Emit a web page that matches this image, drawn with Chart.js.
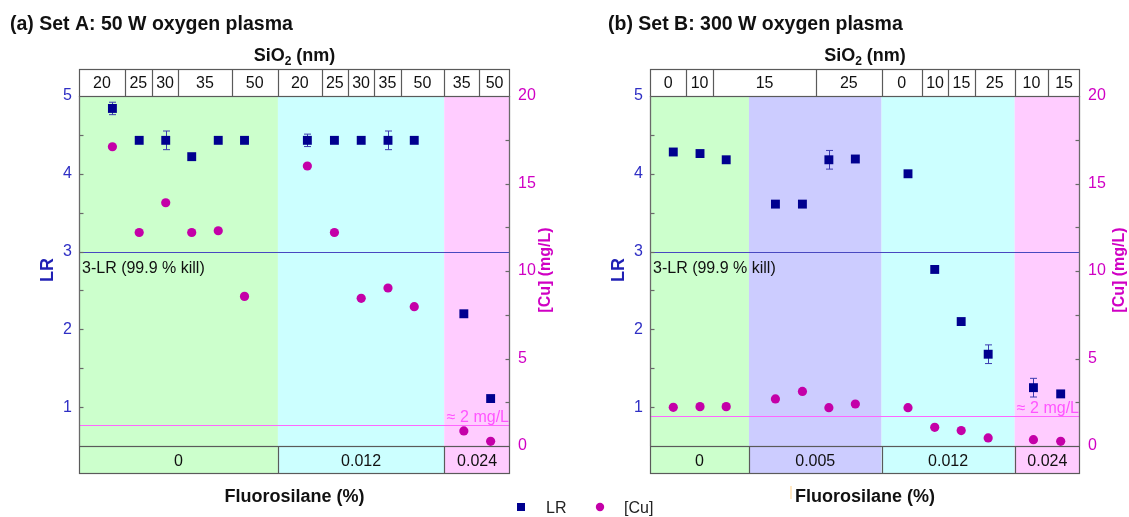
<!DOCTYPE html>
<html><head><meta charset="utf-8">
<script src="https://cdn.jsdelivr.net/npm/chart.js@4.4.0/dist/chart.umd.min.js"></script>
<style>
html,body{margin:0;padding:0;background:#fff;}
#wrap{position:relative;width:1129px;height:517px;overflow:hidden;}
canvas{position:absolute;left:0;top:0;}
</style>
</head><body>
<div id="wrap"><canvas id="ca" width="1129" height="517"></canvas><canvas id="cb" width="1129" height="517"></canvas></div>
<script>
// ---------- DATA ----------
// Panel A (Set A: 50 W oxygen plasma)
const posA   = [1.26, 2.27, 3.27, 4.25, 5.25, 6.24, 8.61, 9.63, 10.64, 11.65, 12.64, 14.51, 15.52];
const lrA    = [4.84, 4.43, 4.43, 4.22, 4.43, 4.43, 4.43, 4.43, 4.43, 4.43, 4.43, 2.20, 1.11];
const lrErrA = [0.08, 0.02, 0.12, 0.03, 0.02, 0.02, 0.08, 0.04, 0.02, 0.12, 0.02, 0.02, 0.02];
const cuA    = [17.1, 12.2, 13.9, 12.2, 12.3, 8.55, 16.0, 12.2, 8.44, 9.03, 7.96, 0.86, 0.27];
const sio2BoundsA = [0, 1.73, 2.74, 3.75, 5.75, 7.5, 9.15, 10.14, 11.13, 12.13, 13.77, 15.09, 16.25];
const sio2LabelsA = ['20','25','30','35','50','20','25','30','35','50','35','50'];
const fsBoundsA = [0, 7.5, 13.77, 16.25];
const fsLabelsA = ['0','0.012','0.024'];
const cuLimitA = 1.18;

// Panel B (Set B: 300 W oxygen plasma)
const posB   = [0.88, 1.89, 2.88, 4.74, 5.76, 6.76, 7.76, 9.75, 10.76, 11.76, 12.78, 14.49, 15.52];
const lrB    = [4.28, 4.26, 4.18, 3.61, 3.61, 4.18, 4.19, 4.00, 2.77, 2.10, 1.68, 1.25, 1.17];
const lrErrB = [0.02, 0.02, 0.03, 0.03, 0.02, 0.12, 0.03, 0.03, 0.02, 0.02, 0.12, 0.12, 0.02];
const cuB    = [2.21, 2.25, 2.25, 2.69, 3.12, 2.19, 2.40, 2.19, 1.07, 0.88, 0.46, 0.36, 0.27];
const sio2BoundsB = [0, 1.37, 2.38, 6.28, 8.75, 10.28, 11.27, 12.27, 13.78, 15.05, 16.25];
const sio2LabelsB = ['0','10','15','25','0','10','15','25','10','15'];
const fsBoundsB = [0, 3.74, 8.75, 13.78, 16.25];
const fsLabelsB = ['0','0.005','0.012','0.024'];
const cuLimitB = 1.71;

const lrTicks = [1, 2, 3, 4, 5];
const cuTicks = [0, 5, 10, 15, 20];

// ---------- STYLE ----------
const FONT = "'Liberation Sans', Arial, sans-serif";
const C_LR = '#00008f', C_CU = '#c400a8', C_ERR = '#3b3bb0';
const C_LRTXT = '#2f2fc4', C_CUTXT = '#d000c4';
const REGION_COLORS = {g:'#ccffcc', c:'#ccffff', p:'#ffccff', v:'#ccccff'};

function txt(ctx, s, x, y, font, color, align, base){
  ctx.font = font; ctx.fillStyle = color; ctx.textAlign = align || 'left'; ctx.textBaseline = base || 'alphabetic';
  ctx.fillText(s, x, y);
}

function panelPlugin(cfg){
  return {
    id: 'panel',
    beforeDatasetsDraw(chart){
      const {ctx, chartArea:a, scales} = chart;
      const x = scales.x, yL = scales.yL, yR = scales.yR;
      ctx.save();
      for (let i=0;i<cfg.fsBounds.length-1;i++){
        const x0 = x.getPixelForValue(cfg.fsBounds[i]), x1 = x.getPixelForValue(cfg.fsBounds[i+1]);
        ctx.fillStyle = REGION_COLORS[cfg.colors[i]];
        ctx.fillRect(x0, a.top, x1-x0, a.bottom-a.top);
      }
      const y3 = Math.round(yL.getPixelForValue(3))+0.5;
      ctx.strokeStyle = '#4848c0'; ctx.lineWidth = 1;
      ctx.beginPath(); ctx.moveTo(a.left, y3); ctx.lineTo(a.right, y3); ctx.stroke();
      txt(ctx, '3-LR (99.9 % kill)', a.left+3, y3+20, '16px '+FONT, '#111');
      const yc = Math.round(yR.getPixelForValue(cfg.cuLimit))+0.5;
      ctx.strokeStyle = '#ff66ff';
      ctx.beginPath(); ctx.moveTo(a.left, yc); ctx.lineTo(a.right, yc); ctx.stroke();
      txt(ctx, '\u2248 2 mg/L', a.right-1, yc-4, '16px '+FONT, '#ff55ff', 'right');
      ctx.strokeStyle = C_ERR; ctx.lineWidth = 1;
      cfg.pos.forEach((p,i)=>{
        const e = cfg.err[i]; if (!e) return;
        const px = Math.round(x.getPixelForValue(p))+0.5;
        const t = yL.getPixelForValue(cfg.lr[i]+e), b = yL.getPixelForValue(cfg.lr[i]-e);
        ctx.beginPath();
        ctx.moveTo(px, t); ctx.lineTo(px, b);
        ctx.moveTo(px-3.5, t); ctx.lineTo(px+3.5, t);
        ctx.moveTo(px-3.5, b); ctx.lineTo(px+3.5, b);
        ctx.stroke();
      });
      ctx.restore();
    },
    afterDraw(chart){
      const {ctx, chartArea:a, scales} = chart;
      const x = scales.x, yL = scales.yL, yR = scales.yR;
      const L = Math.round(a.left)+0.5, R = Math.round(a.right)-0.5;
      const hTop = 69, hBot = Math.round(a.top), bTop = Math.round(a.bottom), bBot = 473;
      const cx = (a.left+a.right)/2;
      ctx.save();
      ctx.strokeStyle = '#5a5a5a'; ctx.lineWidth = 1.2;
      ctx.fillStyle = '#fff'; ctx.fillRect(L, hTop, R-L, hBot-hTop);
      ctx.strokeRect(L, hTop+0.5, R-L, hBot-hTop);
      for (let i=0;i<cfg.sio2Labels.length;i++){
        const x0 = x.getPixelForValue(cfg.sio2Bounds[i]), x1 = x.getPixelForValue(cfg.sio2Bounds[i+1]);
        if (i>0){ const xx = Math.round(x0)+0.5; ctx.beginPath(); ctx.moveTo(xx,hTop); ctx.lineTo(xx,hBot); ctx.stroke(); }
        txt(ctx, cfg.sio2Labels[i], (x0+x1)/2, 88, '16px '+FONT, '#111', 'center');
      }
      for (let i=0;i<cfg.fsLabels.length;i++){
        const x0 = x.getPixelForValue(cfg.fsBounds[i]), x1 = x.getPixelForValue(cfg.fsBounds[i+1]);
        ctx.fillStyle = REGION_COLORS[cfg.colors[i]];
        ctx.fillRect(x0, bTop, x1-x0, bBot-bTop);
        txt(ctx, cfg.fsLabels[i], (x0+x1)/2, 466, '16px '+FONT, '#111', 'center');
      }
      ctx.strokeStyle = '#5a5a5a';
      ctx.strokeRect(L, bTop+0.5, R-L, bBot-bTop);
      for (let i=1;i<cfg.fsLabels.length;i++){
        const xx = Math.round(x.getPixelForValue(cfg.fsBounds[i]))+0.5;
        ctx.beginPath(); ctx.moveTo(xx,bTop); ctx.lineTo(xx,bBot); ctx.stroke();
      }
      ctx.strokeStyle = '#6a6a6a'; ctx.lineWidth = 1.3;
      ctx.beginPath(); ctx.moveTo(L, hBot); ctx.lineTo(L, bTop); ctx.moveTo(R, hBot); ctx.lineTo(R, bTop); ctx.stroke();
      ctx.lineWidth = 1.2;
      for (let v=1; v<5; v+=0.5){ const yy = Math.round(yL.getPixelForValue(v))+0.5; ctx.beginPath(); ctx.moveTo(L,yy); ctx.lineTo(L+4,yy); ctx.stroke(); }
      for (let v=2.5; v<20; v+=2.5){ const yy = Math.round(yR.getPixelForValue(v))+0.5; ctx.beginPath(); ctx.moveTo(R,yy); ctx.lineTo(R-4,yy); ctx.stroke(); }
      // titles
      txt(ctx, cfg.title, cfg.titleX, 30, 'bold 19.5px '+FONT, '#111');
      ctx.font = 'bold 18px '+FONT;
      const w1 = ctx.measureText('SiO').width, w3 = ctx.measureText(' (nm)').width;
      ctx.font = 'bold 12px '+FONT; const w2 = ctx.measureText('2').width;
      let sx = cx - (w1+w2+w3)/2;
      txt(ctx, 'SiO', sx, 61, 'bold 18px '+FONT, '#111'); sx += w1;
      txt(ctx, '2', sx, 65, 'bold 12px '+FONT, '#111'); sx += w2;
      txt(ctx, ' (nm)', sx, 61, 'bold 18px '+FONT, '#111');
      txt(ctx, 'Fluorosilane (%)', cx, 502, 'bold 18px '+FONT, '#111', 'center');
      ctx.save(); ctx.translate(cfg.lrTitleX, 270); ctx.rotate(-Math.PI/2);
      txt(ctx, 'LR', 0, 0, 'bold 18px '+FONT, '#1f1fb4', 'center', 'middle'); ctx.restore();
      ctx.save(); ctx.translate(cfg.cuTitleX, 270); ctx.rotate(-Math.PI/2);
      txt(ctx, '[Cu] (mg/L)', 0, 0, 'bold 16px '+FONT, C_CUTXT, 'center', 'middle'); ctx.restore();
      if (cfg.legend){
        ctx.fillStyle = C_LR; ctx.fillRect(517, 503, 8, 8);
        txt(ctx, 'LR', 546, 513, '16px '+FONT, '#222');
        ctx.fillStyle = C_CU; ctx.beginPath(); ctx.arc(600, 507, 4.2, 0, Math.PI*2); ctx.fill();
        txt(ctx, '[Cu]', 624, 513, '16px '+FONT, '#222');
      }
      if (cfg.mark){
        ctx.strokeStyle = '#ffe0b0'; ctx.lineWidth = 1.5;
        ctx.beginPath(); ctx.moveTo(791, 486); ctx.lineTo(791, 499); ctx.stroke();
      }
      ctx.restore();
    }
  };
}

function makeChart(id, cfg){
  const rightW = cfg.rightW;
  return new Chart(document.getElementById(id), {
    type: 'scatter',
    data: { datasets: [
      { label:'LR', data: cfg.pos.map((p,i)=>({x:p, y:cfg.lr[i]})), yAxisID:'yL',
        pointStyle:'rect', pointRadius:6.3, backgroundColor:C_LR, borderColor:C_LR, borderWidth:0 },
      { label:'[Cu]', data: cfg.pos.map((p,i)=>({x:p, y:cfg.cu[i]})), yAxisID:'yR',
        pointStyle:'circle', pointRadius:4.6, backgroundColor:C_CU, borderColor:C_CU, borderWidth:0 }
    ]},
    options: {
      responsive:false, animation:false, events:[],
      layout:{ padding:{ left:cfg.padL, right:cfg.padR, top:96, bottom:71 } },
      plugins:{ legend:{display:false}, tooltip:{enabled:false} },
      scales:{
        x:{ type:'linear', min:0, max:16.25, display:false },
        yL:{ type:'linear', position:'left', min:0.5, max:5,
          afterFit(s){ s.width = 79; },
          grid:{display:false, drawTicks:false}, border:{display:false},
          ticks:{ stepSize:1, autoSkip:false, padding:7, color:C_LRTXT, font:{family:FONT, size:16},
            callback:(v)=> lrTicks.includes(v) ? String(v) : '' } },
        yR:{ type:'linear', position:'right', min:0, max:20,
          afterFit(s){ s.width = rightW; },
          grid:{display:false, drawTicks:false}, border:{display:false},
          ticks:{ stepSize:5, autoSkip:false, padding:8, color:C_CUTXT, font:{family:FONT, size:16},
            callback:(v)=> cuTicks.includes(v) ? String(v) : '' } }
      }
    },
    plugins:[panelPlugin(cfg)]
  });
}

makeChart('ca', { pos:posA, lr:lrA, err:lrErrA, cu:cuA, sio2Bounds:sio2BoundsA, sio2Labels:sio2LabelsA,
  fsBounds:fsBoundsA, fsLabels:fsLabelsA, colors:['g','c','p'], cuLimit:cuLimitA,
  title:'(a) Set A: 50 W oxygen plasma', titleX:10, lrTitleX:48, cuTitleX:546, legend:true,
  padL:0, padR:1129-510-55, rightW:55 });
makeChart('cb', { pos:posB, lr:lrB, err:lrErrB, cu:cuB, sio2Bounds:sio2BoundsB, sio2Labels:sio2LabelsB,
  fsBounds:fsBoundsB, fsLabels:fsLabelsB, colors:['g','v','c','p'], cuLimit:cuLimitB,
  title:'(b) Set B: 300 W oxygen plasma', titleX:608, lrTitleX:619, cuTitleX:1120, legend:false, mark:true,
  padL:650-79, padR:0, rightW:49 });
</script>
</body></html>
